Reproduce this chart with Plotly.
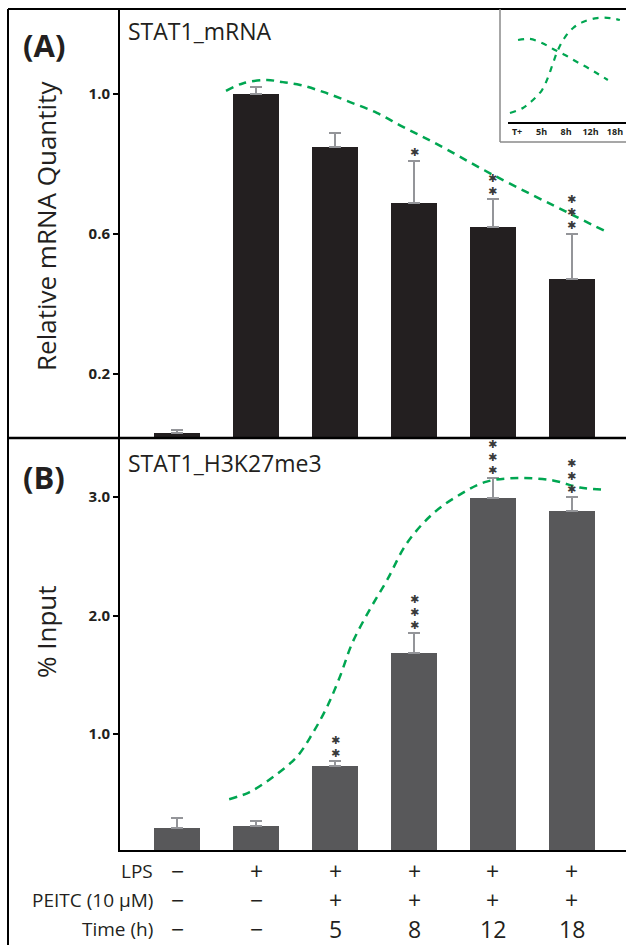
import plotly.graph_objects as go

W, H = 626, 945
FONT = "Open Sans"

# ---------------- data ----------------
conditions = [0, 1, 2, 3, 4, 5]
lps = ["−", "+", "+", "+", "+", "+"]
peitc = ["−", "−", "+", "+", "+", "+"]
time_h = ["−", "−", "5", "8", "12", "18"]

mrna = [0.03, 1.00, 0.85, 0.69, 0.62, 0.47]
mrna_err_top = [0.04, 1.02, 0.89, 0.81, 0.70, 0.60]
mrna_stars = [0, 0, 0, 1, 2, 3]

h3k = [0.21, 0.22, 0.73, 1.68, 2.99, 2.88]
h3k_err_top = [0.29, 0.27, 0.77, 1.85, 3.16, 3.00]
h3k_stars = [0, 0, 2, 3, 3, 3]

trend_a_x = [0.62, 0.84, 1.14, 1.34, 1.56, 1.85, 2.19, 2.53, 2.86, 3.24, 4.0, 5.01, 5.44]
trend_a_y = [1.009, 1.031, 1.04, 1.034, 1.026, 1.006, 0.977, 0.946, 0.906, 0.863, 0.769, 0.654, 0.606]

trend_b_x = [0.66, 0.92, 1.22, 1.52, 1.72, 1.90, 2.06, 2.22, 2.44, 2.66, 2.91, 3.24, 3.58, 3.92, 4.34, 4.76, 5.10, 5.44]
trend_b_y = [0.45, 0.51, 0.64, 0.81, 1.01, 1.23, 1.48, 1.77, 2.05, 2.30, 2.61, 2.86, 3.02, 3.13, 3.16, 3.14, 3.08, 3.06]

inset_ticks = ["T+", "5h", "8h", "12h", "18h"]
inset_down_x = [0.04, 0.53, 1.02, 1.47, 1.96, 2.45, 2.90, 3.31, 3.71]
inset_down_y = [0.726, 0.735, 0.699, 0.646, 0.593, 0.531, 0.478, 0.425, 0.372]
inset_up_x = [-0.29, 0.24, 0.65, 1.02, 1.27, 1.47, 1.67, 1.96, 2.29, 2.69, 3.27, 3.80, 4.20]
inset_up_y = [0.080, 0.124, 0.195, 0.283, 0.398, 0.522, 0.637, 0.752, 0.832, 0.885, 0.920, 0.920, 0.903]

# ---------------- styles ----------------
GREEN = "#00a651"
ERR = "#949599"
BAR_A = "#231f20"
BAR_B = "#58585a"
TXT = "#231f20"
STAR = "✱"
STAR_FONT = dict(size=11, family="DejaVu Sans", color="#3a3a3a")
STAR_GAP = 13      # px between stacked asterisks
STAR_OFF = 8       # px from error-bar top to first asterisk centre


def px(x):
    return x / W


def py(y):
    return 1 - y / H


fig = go.Figure()

err_a_plus = [t - v for t, v in zip(mrna_err_top, mrna)]
err_b_plus = [t - v for t, v in zip(h3k_err_top, h3k)]

fig.add_trace(go.Bar(x=conditions, y=mrna, width=0.58, marker=dict(color=BAR_A, line=dict(width=0)),
                     error_y=dict(type="data", symmetric=False, array=err_a_plus,
                                  arrayminus=[0] * 6, color=ERR, thickness=2, width=6),
                     xaxis="x", yaxis="y", showlegend=False))
fig.add_trace(go.Scatter(x=trend_a_x, y=trend_a_y, mode="lines", line=dict(color=GREEN, width=2.5, dash="8px,6px", shape="spline"),
                         xaxis="x", yaxis="y", showlegend=False))

fig.add_trace(go.Bar(x=conditions, y=h3k, width=0.58, marker=dict(color=BAR_B, line=dict(width=0)),
                     error_y=dict(type="data", symmetric=False, array=err_b_plus,
                                  arrayminus=[0] * 6, color=ERR, thickness=2, width=6),
                     xaxis="x2", yaxis="y2", showlegend=False))
fig.add_trace(go.Scatter(x=trend_b_x, y=trend_b_y, mode="lines", line=dict(color=GREEN, width=2.5, dash="8px,6px", shape="spline"),
                         xaxis="x2", yaxis="y2", showlegend=False))

# inset
fig.add_trace(go.Scatter(x=inset_down_x, y=inset_down_y, mode="lines", line=dict(color=GREEN, width=2.2, dash="6px,6px", shape="spline"),
                         xaxis="x3", yaxis="y3", showlegend=False))
fig.add_trace(go.Scatter(x=inset_up_x, y=inset_up_y, mode="lines", line=dict(color=GREEN, width=2.2, dash="6px,6px", shape="spline"),
                         xaxis="x3", yaxis="y3", showlegend=False))

xr = [-0.722, 5.684]
dom_x = [px(120), 1.0]
axis_common = dict(showgrid=False, zeroline=False, showline=True, linecolor="black", linewidth=2)

fig.update_layout(
    width=W, height=H, autosize=False,
    margin=dict(l=0, r=0, t=0, b=0),
    paper_bgcolor="white", plot_bgcolor="rgba(0,0,0,0)",
    font=dict(family=FONT, color=TXT),
    bargap=0,
    xaxis=dict(domain=dom_x, range=xr, anchor="y", showticklabels=False, showgrid=False, zeroline=False,
               showline=False, ticks=""),
    yaxis=dict(domain=[py(438), py(9)], range=[0.017, 1.243], anchor="x",
               tickvals=[0.2, 0.6, 1.0], ticktext=["0.2", "0.6", "1.0"], ticks="outside", ticklen=5,
               tickwidth=1.5, tickcolor="black",
               tickfont=dict(family=FONT, size=15, color=TXT, weight="bold"), **axis_common),
    xaxis2=dict(domain=dom_x, range=xr, anchor="y2", showticklabels=False, ticks="", **axis_common),
    yaxis2=dict(domain=[py(850), py(438)], range=[0.021, 3.498], anchor="x2",
                tickvals=[1.0, 2.0, 3.0], ticktext=["1.0", "2.0", "3.0"], ticks="outside", ticklen=5,
                tickwidth=1.5, tickcolor="black",
                tickfont=dict(family=FONT, size=15, color=TXT, weight="bold"), **axis_common),
    xaxis3=dict(domain=[px(508), 1.0], range=[-0.37, 4.45], anchor="y3", tickvals=[0, 1, 2, 3, 4],
                ticktext=inset_ticks, ticks="", showgrid=False, zeroline=False, showline=True,
                linecolor="black", linewidth=1.8,
                tickfont=dict(family=FONT, size=9, color=TXT, weight="bold")),
    yaxis3=dict(domain=[py(122), py(9)], range=[0, 1], anchor="x3", visible=False),
)

shapes = []
# outer frame lines
shapes.append(dict(type="line", xref="paper", yref="paper", x0=px(8), x1=1.0, y0=py(9), y1=py(9),
                   line=dict(color="black", width=2)))
shapes.append(dict(type="line", xref="paper", yref="paper", x0=px(8), x1=px(8), y0=py(9), y1=0,
                   line=dict(color="black", width=2)))
shapes.append(dict(type="line", xref="paper", yref="paper", x0=px(8), x1=1.0, y0=py(438), y1=py(438),
                   line=dict(color="black", width=2.5)))
# inset box (grey)
shapes.append(dict(type="line", xref="paper", yref="paper", x0=px(500), x1=px(500), y0=py(9), y1=py(142),
                   line=dict(color="#8a8a8a", width=1.5)))
shapes.append(dict(type="line", xref="paper", yref="paper", x0=px(500), x1=1.0, y0=py(142), y1=py(142),
                   line=dict(color="#8a8a8a", width=1.5)))
fig.update_layout(shapes=shapes)

ann = []
ann.append(dict(text="<b>(A)</b>", xref="paper", yref="paper", x=px(44), y=py(45), showarrow=False,
                font=dict(size=31, family=FONT, color=TXT), xanchor="center", yanchor="middle"))
ann.append(dict(text="<b>(B)</b>", xref="paper", yref="paper", x=px(44), y=py(477), showarrow=False,
                font=dict(size=31, family=FONT, color=TXT), xanchor="center", yanchor="middle"))
ann.append(dict(text="STAT1_mRNA", xref="paper", yref="paper", x=px(126), y=py(31), showarrow=False,
                font=dict(size=23, family=FONT, color=TXT), xanchor="left", yanchor="middle"))
ann.append(dict(text="STAT1_H3K27me3", xref="paper", yref="paper", x=px(126), y=py(463), showarrow=False,
                font=dict(size=23, family=FONT, color=TXT), xanchor="left", yanchor="middle"))
ann.append(dict(text="Relative mRNA Quantity", xref="paper", yref="paper", x=px(46), y=py(226), showarrow=False,
                textangle=-90, font=dict(size=26, family=FONT, color=TXT), xanchor="center", yanchor="middle"))
ann.append(dict(text="% Input", xref="paper", yref="paper", x=px(46), y=py(632), showarrow=False,
                textangle=-90, font=dict(size=26, family=FONT, color=TXT), xanchor="center", yanchor="middle"))

# significance asterisks, stacked vertically above error bars
for xs, tops, nstars, xa, ya in [(conditions, mrna_err_top, mrna_stars, "x", "y"),
                                (conditions, h3k_err_top, h3k_stars, "x2", "y2")]:
    for c, t, n in zip(xs, tops, nstars):
        for k in range(n):
            ann.append(dict(text=STAR, x=c, y=t, xref=xa, yref=ya, showarrow=False,
                            yshift=STAR_OFF + STAR_GAP * k, xanchor="center", yanchor="middle",
                            font=STAR_FONT))

# table below panel B
rows = [("LPS", lps, 871), ("PEITC (10 μM)", peitc, 900), ("Time (h)", time_h, 929)]
for label, vals, yy in rows:
    ann.append(dict(text=label, xref="paper", yref="paper", x=px(155), y=py(yy), showarrow=False,
                    xanchor="right", yanchor="middle", font=dict(size=19, family=FONT, color=TXT)))
    for c, v in zip(conditions, vals):
        ann.append(dict(text=v, xref="x2", yref="paper", x=c, y=py(yy), showarrow=False,
                        xanchor="center", yanchor="middle", font=dict(size=23, family=FONT, color=TXT)))

fig.update_layout(annotations=ann)

fig.write_html("out.html", config={"displayModeBar": False},
               post_script="document.body.style.margin='0';")
